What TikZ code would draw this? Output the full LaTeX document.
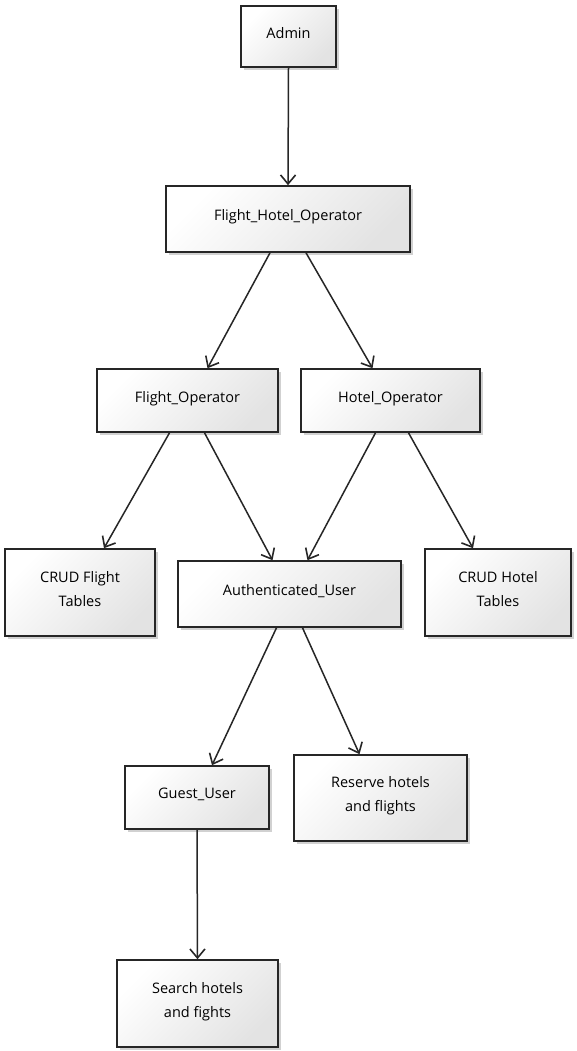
\documentclass[tikz,border=0pt]{standalone}
\usepackage{fontspec}
\setmainfont{Open Sans}
\usetikzlibrary{shadows,arrows.meta}
\begin{document}
\begin{tikzpicture}[x=1pt,y=-1pt,
  box/.style={draw=black!85, line width=1.6pt, top color=white, bottom color=black!11, shading angle=45,
    drop shadow={shadow xshift=2.5pt, shadow yshift=-3pt, opacity=0.18, fill=black},
    inner sep=0pt, align=center, text depth=8pt, font=\fontsize{14.5}{24}\selectfont},
  arr/.style={-{Straight Barb[length=9pt,width=15pt,line width=1.6pt]}, line width=1.5pt, draw=black!85}]
\useasboundingbox[fill=white] (0,0) rectangle (576,1051);
\node[box, minimum width=95pt, minimum height=61pt] (admin) at (288.5,36.5) {Admin};
\node[box, minimum width=244pt, minimum height=66pt] (fho) at (288,219) {Flight\_Hotel\_Operator};
\node[box, minimum width=181pt, minimum height=63pt] (fo) at (187.5,400.5) {Flight\_Operator};
\node[box, minimum width=179pt, minimum height=63pt] (ho) at (390.5,400.5) {Hotel\_Operator};
\node[box, minimum width=150pt, minimum height=87pt] (crudf) at (80,592.5) {CRUD Flight\\Tables};
\node[box, minimum width=223pt, minimum height=66pt] (au) at (289.5,594) {Authenticated\_User};
\node[box, minimum width=146pt, minimum height=87pt] (crudh) at (498,592.5) {CRUD Hotel\\Tables};
\node[box, minimum width=144pt, minimum height=63pt] (guest) at (197,797.5) {Guest\_User};
\node[box, minimum width=173pt, minimum height=86pt] (reserve) at (380.5,798) {Reserve hotels\\and flights};
\node[box, minimum width=161pt, minimum height=87pt] (search) at (197.5,1003.5) {Search hotels\\and fights};
\draw[arr] (admin.south) -- (fho.north);
\draw[arr] ([xshift=-18pt]fho.south) -- ([xshift=20pt]fo.north);
\draw[arr] ([xshift=18pt]fho.south) -- ([xshift=-18pt]ho.north);
\draw[arr] ([xshift=-18pt]fo.south) -- ([xshift=24pt]crudf.north);
\draw[arr] ([xshift=17pt]fo.south) -- ([xshift=-17pt]au.north);
\draw[arr] ([xshift=-15pt]ho.south) -- ([xshift=18pt]au.north);
\draw[arr] ([xshift=18pt]ho.south) -- ([xshift=-25pt]crudh.north);
\draw[arr] ([xshift=-13pt]au.south) -- ([xshift=15pt]guest.north);
\draw[arr] ([xshift=13pt]au.south) -- ([xshift=-21pt]reserve.north);
\draw[arr] (guest.south) -- (search.north);
\end{tikzpicture}
\end{document}
